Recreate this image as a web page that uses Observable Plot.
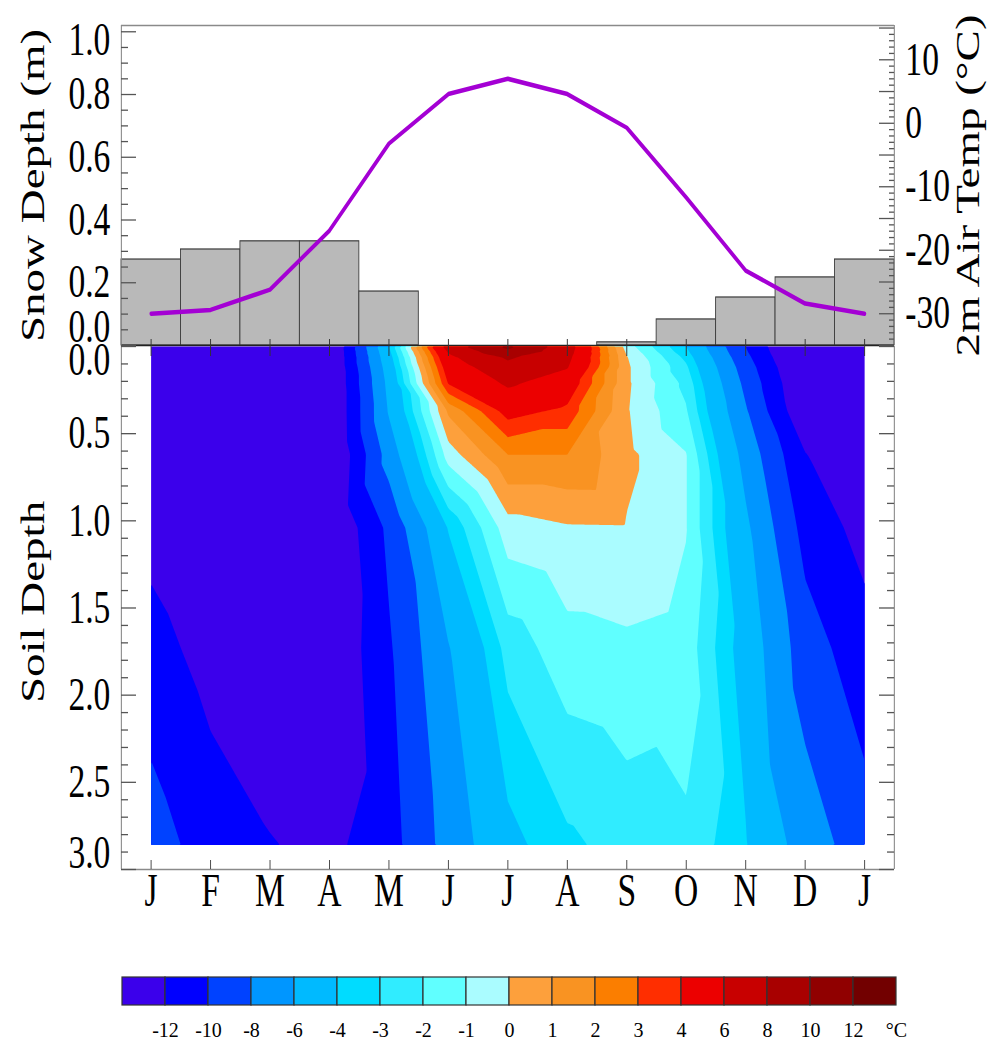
<!DOCTYPE html>
<html><head><meta charset="utf-8">
<script src="https://cdn.jsdelivr.net/npm/d3@7"></script>
<script src="https://cdn.jsdelivr.net/npm/@observablehq/plot@0.6"></script>
<style>
html, body { margin:0; padding:0; overflow:hidden; background:#fff; width:996px; height:1040px; }
#wrap { position:absolute; left:0; top:0; height:1040px; transform-origin:0 0; }
#wrap svg, #legend svg { position:absolute; left:0; max-width:none; overflow:visible; }
#legend { position:absolute; left:0; top:960px; width:996px; height:80px; }
</style></head><body><div id="wrap"></div><div id="legend"></div>
<script>
// ---------------- data ----------------
const months = ["J","F","M","A","M","J","J","A","S","O","N","D","J"];
const snowDepth = [0.274,0.306,0.332,0.332,0.172,0,0,0,0.01,0.083,0.153,0.217,0.274];
const airTemp = [-30.0,-29.4,-26.2,-16.9,-3.2,4.6,7.0,4.6,-0.7,-11.7,-23.2,-28.4,-30.0];
const soilDepths = [0,0.03,0.06,0.12,0.21,0.37,0.62,1.04,1.73,2.86];
// rows = soilDepths, columns = months (J..J)
const soilTemp = [
  [-16.0,-17.0,-16.0,-14.5,-4.0, 7.0,10.5, 7.0,-0.5 ,-4.0 ,-10.0,-15.3,-16.0],
  [-16.0,-16.8,-16.0,-14.5,-4.3, 6.2, 9.6, 6.8,-0.2 ,-3.7 , -9.8,-15.2,-16.0],
  [-16.0,-16.6,-16.0,-14.5,-4.6, 5.6, 8.3, 6.5, 0.05,-3.3 , -9.5,-15.0,-16.0],
  [-15.8,-16.3,-15.9,-14.5,-5.0, 4.9, 7.4, 6.1, 0.2 ,-2.8 , -9.0,-14.6,-15.8],
  [-15.5,-16.0,-15.8,-14.5,-5.4, 4.1, 6.3, 5.0, 0.2 ,-2.3 , -8.5,-14.2,-15.5],
  [-15.0,-15.8,-15.7,-14.5,-5.8, 1.2, 4.5, 3.7, 0.1 ,-1.9 , -7.8,-13.8,-15.0],
  [-14.4,-15.5,-15.5,-14.6,-7.1,-0.5, 2.0, 2.0, 0.25,-0.95, -6.7,-11.9,-14.4],
  [-12.7,-14.0,-14.5,-14.2,-9.55,-3.9,-0.45,-0.1,-0.07,-0.95,-5.6,-10.7,-12.7],
  [-11.2,-12.8,-13.5,-14.0,-10.25,-6.1,-2.6,-1.4,-1.2,-1.4, -4.7, -9.05,-11.2],
  [ -9.1,-10.9,-11.9,-12.5,-10.8,-7.2,-4.4,-3.2,-2.6 ,-2.2 , -3.9, -6.9, -9.1]
];
const thresholds = [-12,-10,-8,-6,-4,-3,-2,-1,0,1,2,3,4,6,8,10,12];
const bandColors = ["#3b00eb","#0000ff","#0042ff","#0096ff","#00baff","#00dcff","#30ecff","#60ffff","#aafcff",
                    "#fda03c","#f99322","#fb7e00","#ff2e00","#ec0000","#c80000","#a80000","#900000","#720000"];
const snowLabels = [0.2,0.4,0.6,0.8];
const tempLabels = [-30,-20,-10,0,10];
const soilLabels = [0.5,1.0,1.5,2.0,2.5];

// ---------------- layout ----------------
const s = 0.73;                 // horizontal squeeze of the original figure
const W = 996 / s;
const mL = 121 / s, mR = (996 - 894) / s;
const pxMonth = 773 / 13;
const major = 15 / pxMonth, minor = 7 / pxMonth;
const wrap = document.getElementById("wrap");
wrap.style.width = W + "px";
wrap.style.transform = `scaleX(${s})`;
const baseStyle = {fontFamily: "'Liberation Serif','Times New Roman',serif", fontSize: "46px",
                   background: "transparent", overflow: "visible", maxWidth: "none", color: "#000"};
function place(svg, top, parent = wrap) { svg.style.top = top + "px"; parent.appendChild(svg); }
const colorScale = {type: "threshold", domain: thresholds, range: bandColors};
const fmt1 = d3.format(".1f");

const series = months.map((m, i) => ({i, snow: snowDepth[i], temp: airTemp[i]}));

// ---------------- top panel : snow depth ----------------
const snowTicks = d3.range(0, 21).map(k => ({v: k * 0.05, big: k % 4 === 0}));
place(Plot.plot({
  width: W, height: 360, marginLeft: mL, marginRight: mR, marginTop: 25, marginBottom: 15,
  style: baseStyle,
  x: {domain: [-0.5, 12.5], axis: null},
  y: {domain: [0, 1.02]},
  marks: [
    Plot.rectY(series.filter(d => d.snow > 0), {x1: d => d.i - 0.5, x2: d => d.i + 0.5, y: "snow",
      fill: "#b9b9b9", stroke: "#3a3a3a", strokeWidth: 1.2}),
    Plot.ruleY([1.02], {stroke: "#8a8a8a", strokeWidth: 1.5}),
    Plot.ruleX([-0.5, 12.5], {stroke: "#8a8a8a", strokeWidth: 1.5}),
    Plot.ruleY([0], {stroke: "#222", strokeWidth: 1.6}),
    Plot.ruleY(snowTicks, {y: "v", x1: -0.5, x2: d => -0.5 + (d.big ? major : minor), stroke: "#555", strokeWidth: 1.3}),
    Plot.axisY(snowLabels, {anchor: "left", tickSize: 0, tickPadding: 11 / s, fontSize: 46, tickFormat: fmt1, label: null}),
    Plot.axisY([1.0], {anchor: "left", tickSize: 0, tickPadding: 11 / s, fontSize: 46, tickFormat: fmt1, label: null, dy: 9}),
    Plot.axisY([0], {anchor: "left", tickSize: 0, tickPadding: 11 / s, fontSize: 46, tickFormat: fmt1, label: null, dy: -18}),
    Plot.text(["Snow Depth (m)"], {frameAnchor: "left", dx: -88 / s, rotate: -90, fontSize: 47,
      textAnchor: "middle", lineAnchor: "middle", text: d => d})
  ]
}), 0);

// ---------------- top panel : air temperature (right axis) ----------------
const tempTicks = d3.range(-35, 16).map(v => ({v, big: v % 5 === 0}));
place(Plot.plot({
  width: W, height: 360, marginLeft: mL, marginRight: mR, marginTop: 25, marginBottom: 15,
  style: baseStyle,
  x: {domain: [-0.5, 12.5], axis: null},
  y: {domain: [-35, 15.4]},
  marks: [
    Plot.ruleY(tempTicks, {y: "v", x1: d => 12.5 - (d.big ? major : 5 / pxMonth), x2: 12.5, stroke: "#555", strokeWidth: 1.3}),
    Plot.line(series, {x: "i", y: "temp", stroke: "#a400d4", strokeWidth: 4.5, strokeLinejoin: "round"}),
    Plot.axisY(tempLabels, {anchor: "right", tickSize: 0, tickPadding: 11 / s, fontSize: 46, tickFormat: d => String(d), label: null}),
    Plot.text(["2m Air Temp (°C)"], {frameAnchor: "right", dx: 74 / s, rotate: -90, fontSize: 47,
      textAnchor: "middle", lineAnchor: "middle", text: d => d})
  ]
}), 0);

// ---------------- soil temperature panel ----------------
const cells = [];
soilDepths.forEach((d, r) => months.forEach((m, c) => cells.push({m: c, d, t: soilTemp[r][c]})));
const soilTicks = d3.range(0, 31).map(k => ({v: k / 10, big: k % 5 === 0}));
const monthIdx = d3.range(13);
place(Plot.plot({
  width: W, height: 590, marginLeft: mL, marginRight: mR, marginTop: 16, marginBottom: 51,
  style: baseStyle,
  x: {domain: [-0.5, 12.5]},
  y: {domain: [0, 3], reverse: true},
  color: colorScale,
  marks: [
    Plot.contour(cells, {x: "m", y: "d", fill: "t", stroke: "none", interpolate: "barycentric",
      x1: 0, x2: 12, y1: 0, y2: 2.86, thresholds: [-20, ...thresholds]}),
    Plot.ruleX([-0.5, 12.5], {stroke: "#8a8a8a", strokeWidth: 1.5}),
    Plot.ruleY([3], {stroke: "#8a8a8a", strokeWidth: 1.5}),
    Plot.ruleY(soilTicks, {y: "v", x1: -0.5, x2: d => -0.5 + (d.big ? major : minor), stroke: "#555", strokeWidth: 1.3}),
    Plot.ruleY(soilTicks, {y: "v", x1: d => 12.5 - (d.big ? major : minor), x2: 12.5, stroke: "#555", strokeWidth: 1.3}),
    Plot.ruleX(monthIdx, {y1: 3, y2: 3 - 9 / 174.3, stroke: "#444", strokeWidth: 1.3}),
    Plot.ruleX(monthIdx, {y1: -0.04, y2: 0.057, stroke: "#333", strokeWidth: 1.3}),
    Plot.axisX(monthIdx, {anchor: "bottom", tickSize: 0, tickPadding: 4, fontSize: 46, tickFormat: i => months[i], label: null}),
    Plot.axisY(soilLabels, {anchor: "left", tickSize: 0, tickPadding: 11 / s, fontSize: 46, tickFormat: fmt1, label: null}),
    Plot.axisY([0], {anchor: "left", tickSize: 0, tickPadding: 11 / s, fontSize: 46, tickFormat: fmt1, label: null, dy: 14}),
    Plot.axisY([3], {anchor: "left", tickSize: 0, tickPadding: 11 / s, fontSize: 46, tickFormat: fmt1, label: null, dy: -16}),
    Plot.text(["Soil Depth"], {frameAnchor: "left", dx: -88 / s, dy: -6, rotate: -90, fontSize: 47,
      textAnchor: "middle", lineAnchor: "middle", text: d => d})
  ]
}), 330);

// ---------------- colour bar ----------------
const bandLows = [-20, ...thresholds];
const legendCells = bandLows.map((v, k) => ({k, v}));
place(Plot.plot({
  width: 996, height: 80, marginLeft: 122, marginRight: 100, marginTop: 17, marginBottom: 35,
  style: {...baseStyle, fontSize: "20px"},
  x: {domain: [0, 18], axis: null},
  y: {domain: [0, 1], axis: null},
  color: colorScale,
  marks: [
    Plot.rect(legendCells, {x1: "k", x2: d => d.k + 1, y1: 0, y2: 1, fill: "v", stroke: "#333", strokeWidth: 1.2}),
    Plot.text(thresholds, {x: (d, i) => i + 1, y: 0, text: d => String(d), lineAnchor: "top", dy: 17, fontSize: 20}),
    Plot.text(["°C"], {x: 18, y: 0, text: d => d, lineAnchor: "top", dy: 17, fontSize: 20})
  ]
}), 0, document.getElementById("legend"));
</script></body></html>
